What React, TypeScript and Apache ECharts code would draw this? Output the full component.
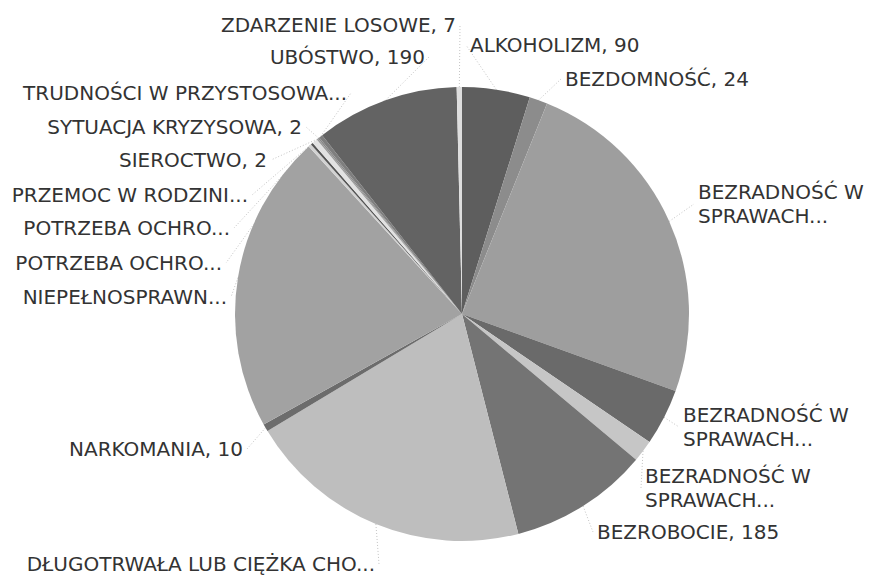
import React, { useEffect, useRef } from "react";
import * as echarts from "echarts";

const categories = [
  "ALKOHOLIZM",
  "BEZDOMNOŚĆ",
  "BEZRADNOŚĆ W SPRAWACH...",
  "BEZRADNOŚĆ W SPRAWACH...",
  "BEZRADNOŚĆ W SPRAWACH...",
  "BEZROBOCIE",
  "DŁUGOTRWAŁA LUB CIĘŻKA CHO...",
  "NARKOMANIA",
  "NIEPEŁNOSPRAWN...",
  "POTRZEBA OCHRO...",
  "POTRZEBA OCHRO...",
  "PRZEMOC W RODZINI...",
  "SIEROCTWO",
  "SYTUACJA KRYZYSOWA",
  "TRUDNOŚCI W PRZYSTOSOWA...",
  "UBÓSTWO",
  "ZDARZENIE LOSOWE",
];

const values = [90, 24, 455, 75, 29, 185, 380, 10, 397, 4, 3, 7, 2, 2, 5, 190, 7];

const sliceColors = [
  "#5e5e5e", "#8c8c8c", "#9e9e9e", "#6a6a6a", "#c6c6c6", "#747474",
  "#bebebe", "#6c6c6c", "#a2a2a2", "#d2d2d2", "#555555", "#e2e2e2",
  "#9a9a9a", "#888888", "#7e7e7e", "#636363", "#dedede",
];

// label anchor positions (x = text start for right side, text end for left side)
const labelX = [470, 565, 698, 683, 645, 597, 375, 243, 227, 222, 230, 248, 267, 302, 347, 425, 456];
const labelY = [45, 79, 204, 427, 488, 532, 564, 449, 297, 263, 228, 195, 160, 127, 93, 57, 25];
const labelRight = [true, true, true, true, true, true, false, false, false, false, false, false, false, false, false, false, false];

export default function App() {
  const ref = useRef<HTMLDivElement>(null);
  useEffect(() => {
    if (!ref.current) return;
    const chart = echarts.init(ref.current, undefined, { renderer: "svg" });
    const data = categories.map((name, i) => ({
      name,
      value: values[i],
      itemStyle: { color: sliceColors[i] },
    }));
    chart.setOption({
      animation: false,
      backgroundColor: "#ffffff",
      series: [
        {
          type: "pie",
          center: [462, 314],
          radius: [0, 227],
          startAngle: 90,
          clockwise: true,
          data,
          itemStyle: { borderWidth: 0 },
          emphasis: { disabled: true },
          label: {
            show: true,
            position: "outer",
            overflow: "none",
            fontFamily: "DejaVu Sans",
            fontSize: 20,
            lineHeight: 24,
            color: "#333333",
            formatter: (p: any) => {
              const n: string = p.name;
              if (n.startsWith("BEZRADNOŚĆ W ")) return "BEZRADNOŚĆ W\nSPRAWACH...";
              if (n.endsWith("...")) return n;
              return `${n}, ${p.value}`;
            },
          },
          labelLine: {
            show: true,
            length: 10,
            length2: 10,
            smooth: false,
            lineStyle: { color: "#c4c4c4", width: 1, type: [1, 2] },
          },
          labelLayout: (params: any) => {
            const i = params.dataIndex;
            const x = labelX[i];
            const y = labelY[i];
            const right = labelRight[i];
            const pts = params.labelLinePoints;
            const p0 = pts && pts[0] ? pts[0] : [x, y];
            const end = [right ? x - 4 : x + 4, y];
            const mid = [(p0[0] + end[0]) / 2, (p0[1] + end[1]) / 2];
            return {
              x,
              y,
              align: right ? "left" : "right",
              verticalAlign: "middle",
              labelLinePoints: [p0, mid, end],
            };
          },
        },
      ],
    });
    return () => chart.dispose();
  }, []);
  return (
    <div
      ref={ref}
      style={{ position: "absolute", left: 0, top: 0, width: 871, height: 578 }}
    />
  );
}
